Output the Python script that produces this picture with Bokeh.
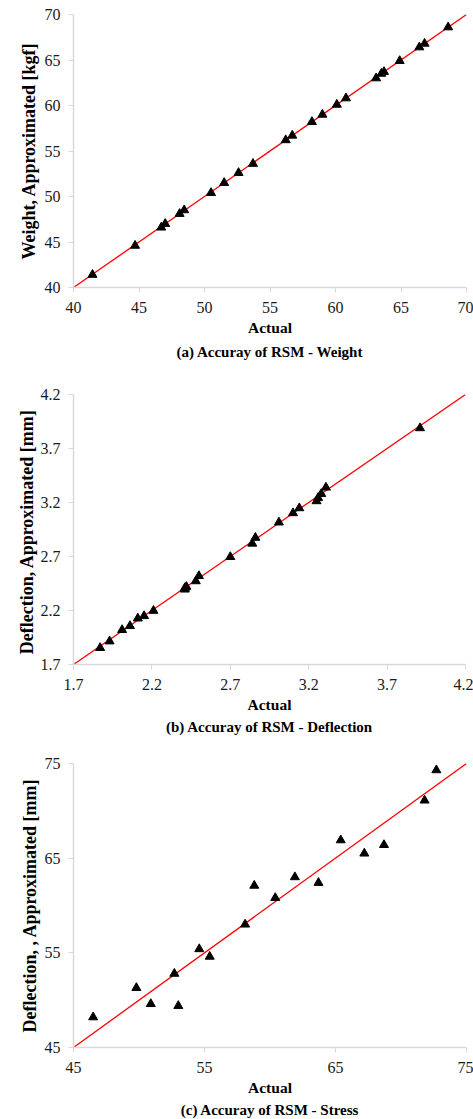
from bokeh.plotting import figure
from bokeh.layouts import column
from bokeh.models import Range1d, FixedTicker, Title
from bokeh.embed import file_html
from bokeh.resources import INLINE

# ---- data ----
weight_actual = [41.45, 44.7, 46.7, 47.0, 48.1, 48.45, 50.5, 51.5, 52.6, 53.7, 56.2, 56.7,
                 58.2, 59.0, 60.1, 60.8, 63.1, 63.5, 63.7, 64.9, 66.4, 66.8, 68.6]
weight_approx = [41.4, 44.6, 46.6, 47.0, 48.1, 48.5, 50.4, 51.5, 52.6, 53.6, 56.2, 56.7,
                 58.2, 59.0, 60.1, 60.8, 63.0, 63.5, 63.7, 64.9, 66.4, 66.8, 68.6]

defl_actual = [1.87, 1.93, 2.01, 2.06, 2.11, 2.15, 2.21, 2.41, 2.41, 2.42, 2.48, 2.50,
               2.70, 2.84, 2.86, 3.01, 3.10, 3.14, 3.25, 3.26, 3.28, 3.31, 3.91]
defl_approx = [1.854, 1.915, 2.02, 2.057, 2.127, 2.149, 2.198, 2.408, 2.395, 2.42, 2.472, 2.52,
               2.696, 2.82, 2.874, 3.016, 3.102, 3.148, 3.213, 3.243, 3.28, 3.339, 3.889]

stress_actual = [46.5, 49.8, 50.9, 52.7, 53.0, 54.6, 55.4, 58.1, 58.8, 60.4, 61.9, 63.7,
                 65.4, 67.2, 68.7, 71.8, 72.7]
stress_approx = [48.2, 51.3, 49.6, 52.8, 49.4, 55.4, 54.6, 58.0, 62.1, 60.8, 63.0, 62.4,
                 66.9, 65.5, 66.4, 71.1, 74.3]

weight_ticks = [40, 45, 50, 55, 60, 65, 70]
weight_labels = ["40", "45", "50", "55", "60", "65", "70"]
defl_ticks = [1.7, 2.2, 2.7, 3.2, 3.7, 4.2]
defl_labels = ["1.7", "2.2", "2.7", "3.2", "3.7", "4.2"]
stress_ticks = [45, 55, 65, 75]
stress_labels = ["45", "55", "65", "75"]

FONT = "Liberation Serif"
AXIS_GRAY = "#d9d9d9"


def make_panel(xs, ys, ticks, labels, ylabel, caption, left, fw, top, fh, bottom,
               ytitle_standoff, cap_standoff):
    lo, hi = ticks[0], ticks[-1]
    p = figure(frame_width=fw, frame_height=fh, output_backend="svg", toolbar_location=None,
               x_range=Range1d(lo, hi), y_range=Range1d(lo, hi),
               min_border_left=left, min_border_right=473 - left - fw,
               min_border_top=top, min_border_bottom=bottom)
    p.outline_line_color = None
    p.grid.visible = False
    p.background_fill_color = "white"
    p.border_fill_color = "white"
    p.line([lo, hi], [lo, hi], line_color="#ff0000", line_width=1.3)
    p.scatter(xs, ys, marker="triangle", size=9, fill_color="black", line_color="black")
    overrides = {t: l for t, l in zip(ticks, labels)}
    for ax in (p.xaxis[0], p.yaxis[0]):
        ax.ticker = FixedTicker(ticks=ticks)
        ax.major_label_overrides = overrides
        ax.axis_line_color = AXIS_GRAY
        ax.axis_line_width = 1.5
        ax.major_tick_line_color = AXIS_GRAY
        ax.major_tick_in = 0
        ax.major_tick_out = 5
        ax.minor_tick_line_color = None
        ax.major_label_text_font = FONT
        ax.major_label_text_font_size = "16px"
        ax.major_label_text_color = "#1a1a1a"
    p.xaxis[0].axis_label = "Actual"
    p.xaxis[0].axis_label_text_font = FONT
    p.xaxis[0].axis_label_text_font_style = "bold"
    p.xaxis[0].axis_label_text_font_size = "15.5px"
    p.xaxis[0].axis_label_text_color = "black"
    p.xaxis[0].major_label_standoff = 9
    p.xaxis[0].axis_label_standoff = 3
    p.yaxis[0].major_label_standoff = 8
    ytitle = Title(text=ylabel, align="center", text_font=FONT, text_font_style="bold",
                   text_font_size="18px", text_color="black", standoff=ytitle_standoff)
    p.add_layout(ytitle, "left")
    cap = Title(text=caption, align="center", text_font=FONT, text_font_style="bold",
                text_font_size="15px", text_color="black", standoff=cap_standoff)
    p.add_layout(cap, "below")
    return p


pa = make_panel(weight_actual, weight_approx, weight_ticks, weight_labels,
                "Weight, Approximated [kgf]", "(a) Accuray of RSM - Weight",
                66, 393, 14, 273, 88, 6, 6)
pb = make_panel(defl_actual, defl_approx, defl_ticks, defl_labels,
                "Deflection,  Approximated [mm]", "(b) Accuray of RSM - Deflection",
                71, 392, 19, 270, 76, 2, 3)
pc = make_panel(stress_actual, stress_approx, stress_ticks, stress_labels,
                "Deflection, , Approximated [mm]", "(c) Accuray of RSM - Stress",
                73, 393, 23, 284, 72, 3, 3)

layout = column(pa, pb, pc, spacing=0)
open("out.html", "w").write(file_html(layout, INLINE))
